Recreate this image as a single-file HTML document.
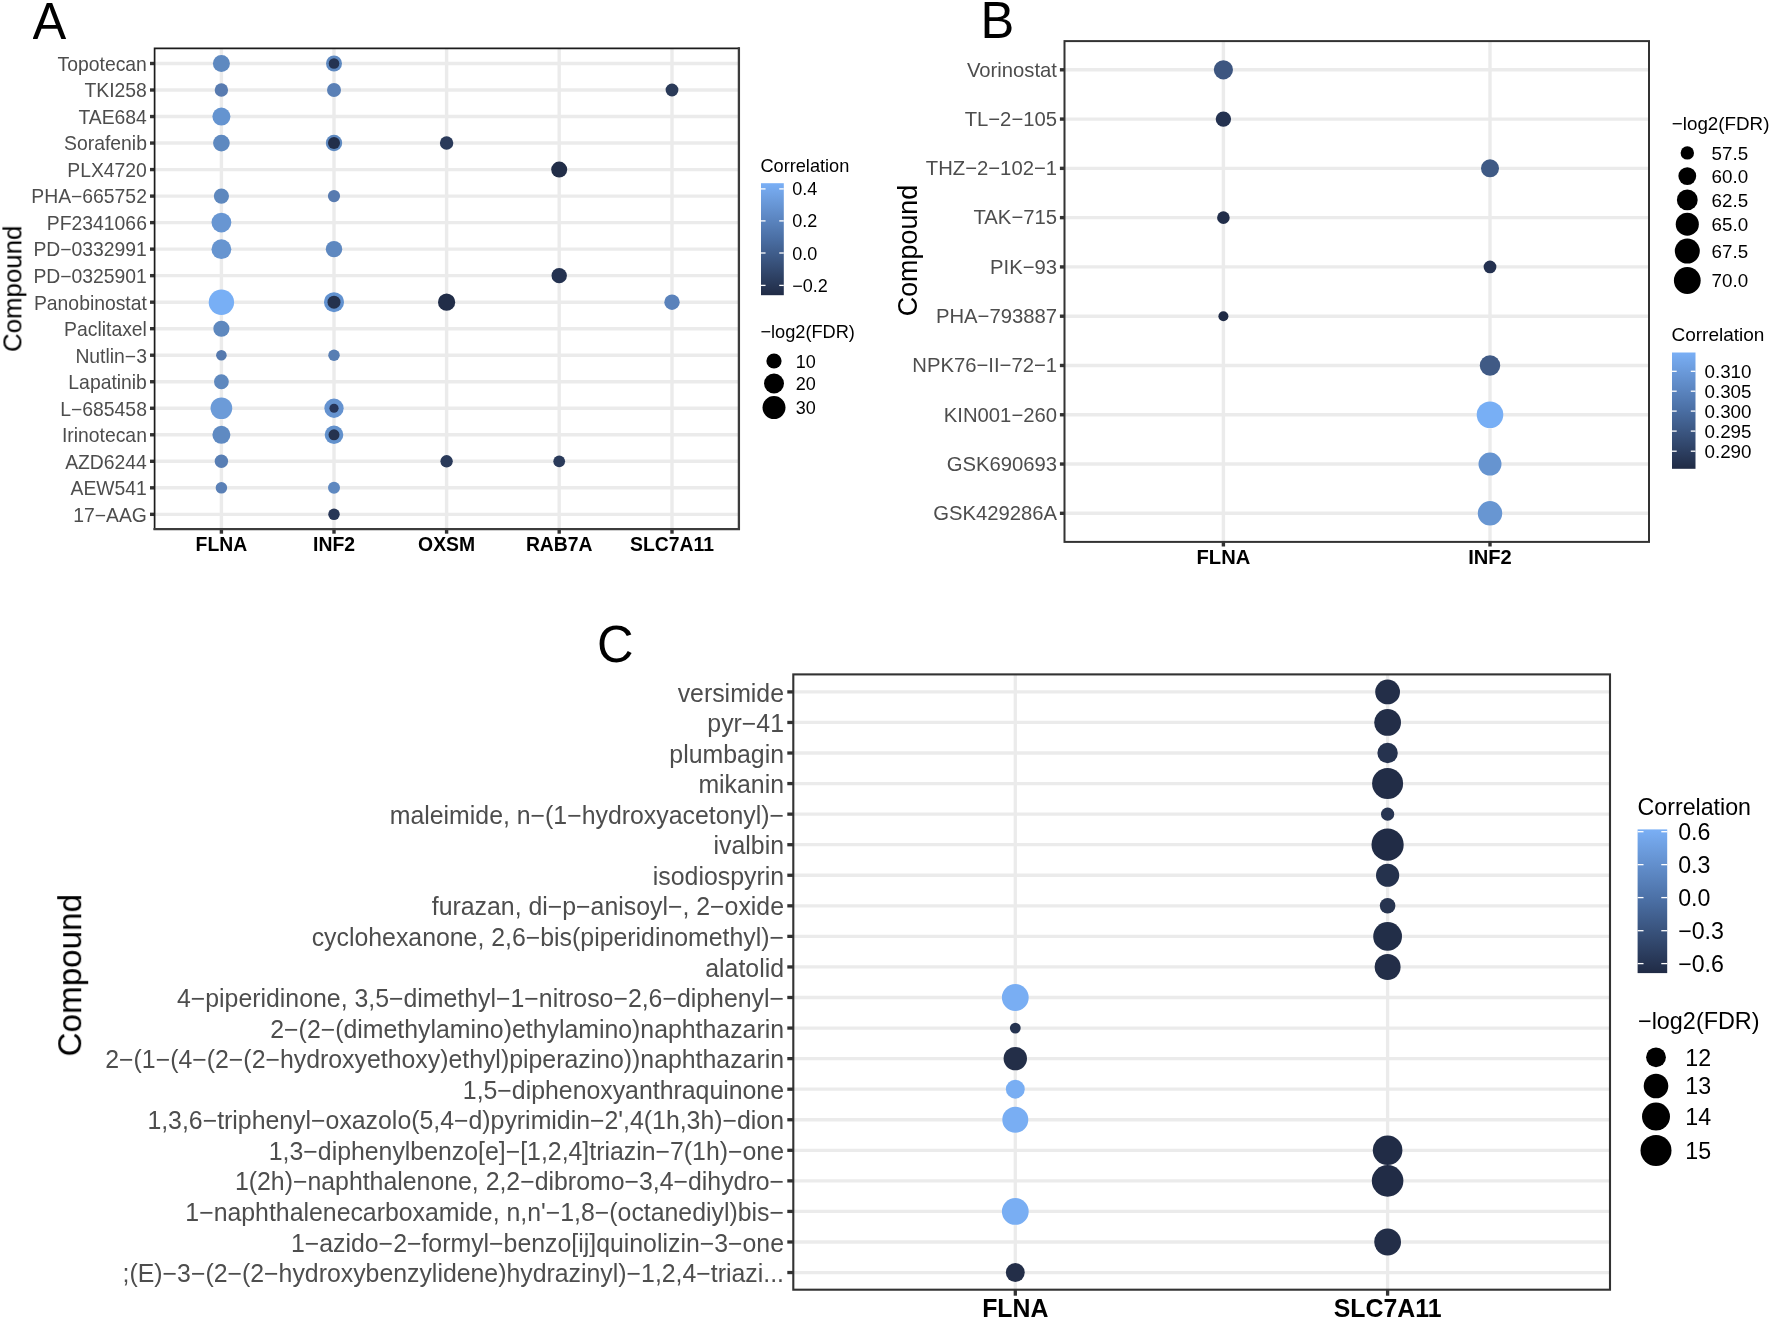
<!DOCTYPE html>
<html lang="en"><head><meta charset="utf-8"><title>Figure</title>
<style>html,body{margin:0;padding:0;background:#fff}body{width:1772px;height:1320px;overflow:hidden}svg{display:block}text{font-family:'Liberation Sans', Arial, Helvetica, sans-serif}</style>
</head><body>
<svg width="1772" height="1320" viewBox="0 0 1772 1320">
<defs><linearGradient id="grad" x1="0" y1="0" x2="0" y2="1"><stop offset="0" stop-color="#7aaff5"/><stop offset="0.5" stop-color="#4a6ea3"/><stop offset="1" stop-color="#202b45"/></linearGradient></defs>
<rect width="1772" height="1320" fill="#fff"/>
<g style="filter:blur(0.5px)">
<g>
<line x1="154.6" x2="738.9" y1="63.50" y2="63.50" stroke="#ebebeb" stroke-width="3.4"/>
<line x1="154.6" x2="738.9" y1="90.02" y2="90.02" stroke="#ebebeb" stroke-width="3.4"/>
<line x1="154.6" x2="738.9" y1="116.54" y2="116.54" stroke="#ebebeb" stroke-width="3.4"/>
<line x1="154.6" x2="738.9" y1="143.06" y2="143.06" stroke="#ebebeb" stroke-width="3.4"/>
<line x1="154.6" x2="738.9" y1="169.58" y2="169.58" stroke="#ebebeb" stroke-width="3.4"/>
<line x1="154.6" x2="738.9" y1="196.10" y2="196.10" stroke="#ebebeb" stroke-width="3.4"/>
<line x1="154.6" x2="738.9" y1="222.62" y2="222.62" stroke="#ebebeb" stroke-width="3.4"/>
<line x1="154.6" x2="738.9" y1="249.14" y2="249.14" stroke="#ebebeb" stroke-width="3.4"/>
<line x1="154.6" x2="738.9" y1="275.66" y2="275.66" stroke="#ebebeb" stroke-width="3.4"/>
<line x1="154.6" x2="738.9" y1="302.18" y2="302.18" stroke="#ebebeb" stroke-width="3.4"/>
<line x1="154.6" x2="738.9" y1="328.70" y2="328.70" stroke="#ebebeb" stroke-width="3.4"/>
<line x1="154.6" x2="738.9" y1="355.22" y2="355.22" stroke="#ebebeb" stroke-width="3.4"/>
<line x1="154.6" x2="738.9" y1="381.74" y2="381.74" stroke="#ebebeb" stroke-width="3.4"/>
<line x1="154.6" x2="738.9" y1="408.26" y2="408.26" stroke="#ebebeb" stroke-width="3.4"/>
<line x1="154.6" x2="738.9" y1="434.78" y2="434.78" stroke="#ebebeb" stroke-width="3.4"/>
<line x1="154.6" x2="738.9" y1="461.30" y2="461.30" stroke="#ebebeb" stroke-width="3.4"/>
<line x1="154.6" x2="738.9" y1="487.82" y2="487.82" stroke="#ebebeb" stroke-width="3.4"/>
<line x1="154.6" x2="738.9" y1="514.34" y2="514.34" stroke="#ebebeb" stroke-width="3.4"/>
<line x1="221.4" x2="221.4" y1="48.3" y2="529.1" stroke="#ebebeb" stroke-width="3.4"/>
<line x1="334.0" x2="334.0" y1="48.3" y2="529.1" stroke="#ebebeb" stroke-width="3.4"/>
<line x1="446.6" x2="446.6" y1="48.3" y2="529.1" stroke="#ebebeb" stroke-width="3.4"/>
<line x1="559.2" x2="559.2" y1="48.3" y2="529.1" stroke="#ebebeb" stroke-width="3.4"/>
<line x1="672.0" x2="672.0" y1="48.3" y2="529.1" stroke="#ebebeb" stroke-width="3.4"/>
<circle cx="221.4" cy="63.50" r="8.5" fill="#5e89c0"/>
<circle cx="334.0" cy="63.50" r="8.0" fill="#5e89c0"/>
<circle cx="334.0" cy="63.50" r="5.3" fill="#253350"/>
<circle cx="221.4" cy="90.02" r="6.7" fill="#587bb0"/>
<circle cx="334.0" cy="90.02" r="7.0" fill="#5a80b6"/>
<circle cx="672.0" cy="90.02" r="6.4" fill="#2a3a58"/>
<circle cx="221.4" cy="116.54" r="9.0" fill="#6594d0"/>
<circle cx="221.4" cy="143.06" r="8.35" fill="#5e89c0"/>
<circle cx="334.0" cy="143.06" r="8.2" fill="#5e89c0"/>
<circle cx="334.0" cy="143.06" r="6.0" fill="#222e4a"/>
<circle cx="446.6" cy="143.06" r="6.7" fill="#2a3a5a"/>
<circle cx="559.2" cy="169.58" r="8.0" fill="#222e48"/>
<circle cx="221.4" cy="196.10" r="7.6" fill="#5e88be"/>
<circle cx="334.0" cy="196.10" r="6.1" fill="#587bb0"/>
<circle cx="221.4" cy="222.62" r="9.9" fill="#6896d2"/>
<circle cx="221.4" cy="249.14" r="9.9" fill="#6795d0"/>
<circle cx="334.0" cy="249.14" r="8.2" fill="#5e88c0"/>
<circle cx="559.2" cy="275.66" r="7.7" fill="#243250"/>
<circle cx="221.4" cy="302.18" r="12.7" fill="#78aff5"/>
<circle cx="334.0" cy="302.18" r="10.0" fill="#6292d0"/>
<circle cx="334.0" cy="302.18" r="6.5" fill="#24314d"/>
<circle cx="446.6" cy="302.18" r="8.6" fill="#212d48"/>
<circle cx="672.0" cy="302.18" r="7.7" fill="#5a82bb"/>
<circle cx="221.4" cy="328.70" r="8.05" fill="#5e88be"/>
<circle cx="221.4" cy="355.22" r="5.3" fill="#5579ae"/>
<circle cx="334.0" cy="355.22" r="5.75" fill="#587eb3"/>
<circle cx="221.4" cy="381.74" r="7.4" fill="#5e88be"/>
<circle cx="221.4" cy="408.26" r="10.85" fill="#6c9bd8"/>
<circle cx="334.0" cy="408.26" r="9.65" fill="#6593d0"/>
<circle cx="334.0" cy="408.26" r="4.6" fill="#27365a"/>
<circle cx="221.4" cy="434.78" r="9.0" fill="#5f8ac2"/>
<circle cx="334.0" cy="434.78" r="9.3" fill="#6291cc"/>
<circle cx="334.0" cy="434.78" r="5.5" fill="#25324f"/>
<circle cx="221.4" cy="461.30" r="6.7" fill="#587eb4"/>
<circle cx="446.6" cy="461.30" r="6.2" fill="#2a3a5a"/>
<circle cx="559.2" cy="461.30" r="5.9" fill="#2a3a5a"/>
<circle cx="221.4" cy="487.82" r="5.75" fill="#5a80b6"/>
<circle cx="334.0" cy="487.82" r="6.0" fill="#5e88c0"/>
<circle cx="334.0" cy="514.34" r="5.75" fill="#283757"/>
<line x1="150.0" x2="154.6" y1="63.50" y2="63.50" stroke="#333" stroke-width="3.4"/>
<line x1="150.0" x2="154.6" y1="90.02" y2="90.02" stroke="#333" stroke-width="3.4"/>
<line x1="150.0" x2="154.6" y1="116.54" y2="116.54" stroke="#333" stroke-width="3.4"/>
<line x1="150.0" x2="154.6" y1="143.06" y2="143.06" stroke="#333" stroke-width="3.4"/>
<line x1="150.0" x2="154.6" y1="169.58" y2="169.58" stroke="#333" stroke-width="3.4"/>
<line x1="150.0" x2="154.6" y1="196.10" y2="196.10" stroke="#333" stroke-width="3.4"/>
<line x1="150.0" x2="154.6" y1="222.62" y2="222.62" stroke="#333" stroke-width="3.4"/>
<line x1="150.0" x2="154.6" y1="249.14" y2="249.14" stroke="#333" stroke-width="3.4"/>
<line x1="150.0" x2="154.6" y1="275.66" y2="275.66" stroke="#333" stroke-width="3.4"/>
<line x1="150.0" x2="154.6" y1="302.18" y2="302.18" stroke="#333" stroke-width="3.4"/>
<line x1="150.0" x2="154.6" y1="328.70" y2="328.70" stroke="#333" stroke-width="3.4"/>
<line x1="150.0" x2="154.6" y1="355.22" y2="355.22" stroke="#333" stroke-width="3.4"/>
<line x1="150.0" x2="154.6" y1="381.74" y2="381.74" stroke="#333" stroke-width="3.4"/>
<line x1="150.0" x2="154.6" y1="408.26" y2="408.26" stroke="#333" stroke-width="3.4"/>
<line x1="150.0" x2="154.6" y1="434.78" y2="434.78" stroke="#333" stroke-width="3.4"/>
<line x1="150.0" x2="154.6" y1="461.30" y2="461.30" stroke="#333" stroke-width="3.4"/>
<line x1="150.0" x2="154.6" y1="487.82" y2="487.82" stroke="#333" stroke-width="3.4"/>
<line x1="150.0" x2="154.6" y1="514.34" y2="514.34" stroke="#333" stroke-width="3.4"/>
<line x1="221.4" x2="221.4" y1="529.1" y2="533.7" stroke="#333" stroke-width="3.4"/>
<line x1="334.0" x2="334.0" y1="529.1" y2="533.7" stroke="#333" stroke-width="3.4"/>
<line x1="446.6" x2="446.6" y1="529.1" y2="533.7" stroke="#333" stroke-width="3.4"/>
<line x1="559.2" x2="559.2" y1="529.1" y2="533.7" stroke="#333" stroke-width="3.4"/>
<line x1="672.0" x2="672.0" y1="529.1" y2="533.7" stroke="#333" stroke-width="3.4"/>
<path d="M154.6,529.1V48.3H738.9" fill="none" stroke="#1c1c1c" stroke-width="1.7" stroke-linecap="square"/>
<path d="M738.9,48.3V529.1H154.6" fill="none" stroke="#3c3c3c" stroke-width="2.3" stroke-linecap="square"/>
<text x="146.9" y="70.83" font-size="19.35" fill="#4d4d4d" text-anchor="end">Topotecan</text>
<text x="146.9" y="97.35" font-size="19.35" fill="#4d4d4d" text-anchor="end">TKI258</text>
<text x="146.9" y="123.87" font-size="19.35" fill="#4d4d4d" text-anchor="end">TAE684</text>
<text x="146.9" y="150.39" font-size="19.35" fill="#4d4d4d" text-anchor="end">Sorafenib</text>
<text x="146.9" y="176.91" font-size="19.35" fill="#4d4d4d" text-anchor="end">PLX4720</text>
<text x="146.9" y="203.43" font-size="19.35" fill="#4d4d4d" text-anchor="end">PHA−665752</text>
<text x="146.9" y="229.95" font-size="19.35" fill="#4d4d4d" text-anchor="end">PF2341066</text>
<text x="146.9" y="256.47" font-size="19.35" fill="#4d4d4d" text-anchor="end">PD−0332991</text>
<text x="146.9" y="282.99" font-size="19.35" fill="#4d4d4d" text-anchor="end">PD−0325901</text>
<text x="146.9" y="309.51" font-size="19.35" fill="#4d4d4d" text-anchor="end">Panobinostat</text>
<text x="146.9" y="336.03" font-size="19.35" fill="#4d4d4d" text-anchor="end">Paclitaxel</text>
<text x="146.9" y="362.55" font-size="19.35" fill="#4d4d4d" text-anchor="end">Nutlin−3</text>
<text x="146.9" y="389.07" font-size="19.35" fill="#4d4d4d" text-anchor="end">Lapatinib</text>
<text x="146.9" y="415.59" font-size="19.35" fill="#4d4d4d" text-anchor="end">L−685458</text>
<text x="146.9" y="442.11" font-size="19.35" fill="#4d4d4d" text-anchor="end">Irinotecan</text>
<text x="146.9" y="468.63" font-size="19.35" fill="#4d4d4d" text-anchor="end">AZD6244</text>
<text x="146.9" y="495.15" font-size="19.35" fill="#4d4d4d" text-anchor="end">AEW541</text>
<text x="146.9" y="521.67" font-size="19.35" fill="#4d4d4d" text-anchor="end">17−AAG</text>
<text x="221.4" y="550.8" font-size="19.35" font-weight="bold" fill="#000" text-anchor="middle">FLNA</text>
<text x="334.0" y="550.8" font-size="19.35" font-weight="bold" fill="#000" text-anchor="middle">INF2</text>
<text x="446.6" y="550.8" font-size="19.35" font-weight="bold" fill="#000" text-anchor="middle">OXSM</text>
<text x="559.2" y="550.8" font-size="19.35" font-weight="bold" fill="#000" text-anchor="middle">RAB7A</text>
<text x="672.0" y="550.8" font-size="19.35" font-weight="bold" fill="#000" text-anchor="middle">SLC7A11</text>
<text transform="translate(21.4,288.75) rotate(-90)" font-size="25.85" fill="#000" text-anchor="middle">Compound</text>
<text transform="translate(32.5,38.7) scale(1,1.04)" font-size="50.6" fill="#000">A</text>
</g>
<g>
<line x1="1064.5" x2="1649.0" y1="69.80" y2="69.80" stroke="#ebebeb" stroke-width="3.4"/>
<line x1="1064.5" x2="1649.0" y1="119.08" y2="119.08" stroke="#ebebeb" stroke-width="3.4"/>
<line x1="1064.5" x2="1649.0" y1="168.36" y2="168.36" stroke="#ebebeb" stroke-width="3.4"/>
<line x1="1064.5" x2="1649.0" y1="217.64" y2="217.64" stroke="#ebebeb" stroke-width="3.4"/>
<line x1="1064.5" x2="1649.0" y1="266.92" y2="266.92" stroke="#ebebeb" stroke-width="3.4"/>
<line x1="1064.5" x2="1649.0" y1="316.20" y2="316.20" stroke="#ebebeb" stroke-width="3.4"/>
<line x1="1064.5" x2="1649.0" y1="365.48" y2="365.48" stroke="#ebebeb" stroke-width="3.4"/>
<line x1="1064.5" x2="1649.0" y1="414.76" y2="414.76" stroke="#ebebeb" stroke-width="3.4"/>
<line x1="1064.5" x2="1649.0" y1="464.04" y2="464.04" stroke="#ebebeb" stroke-width="3.4"/>
<line x1="1064.5" x2="1649.0" y1="513.32" y2="513.32" stroke="#ebebeb" stroke-width="3.4"/>
<line x1="1223.4" x2="1223.4" y1="41.1" y2="541.9" stroke="#ebebeb" stroke-width="3.4"/>
<line x1="1490.0" x2="1490.0" y1="41.1" y2="541.9" stroke="#ebebeb" stroke-width="3.4"/>
<circle cx="1223.4" cy="69.80" r="9.6" fill="#3d5680"/>
<circle cx="1223.4" cy="119.08" r="7.7" fill="#243250"/>
<circle cx="1490.0" cy="168.36" r="9.0" fill="#3f5a85"/>
<circle cx="1223.4" cy="217.64" r="6.3" fill="#222e4a"/>
<circle cx="1490.0" cy="266.92" r="6.4" fill="#243150"/>
<circle cx="1223.4" cy="316.20" r="5.0" fill="#1f2a45"/>
<circle cx="1490.0" cy="365.48" r="10.2" fill="#405a85"/>
<circle cx="1490.0" cy="414.76" r="13.3" fill="#78aff5"/>
<circle cx="1490.0" cy="464.04" r="11.5" fill="#6694d0"/>
<circle cx="1490.0" cy="513.32" r="12.2" fill="#6896d2"/>
<line x1="1059.9" x2="1064.5" y1="69.80" y2="69.80" stroke="#333" stroke-width="3.4"/>
<line x1="1059.9" x2="1064.5" y1="119.08" y2="119.08" stroke="#333" stroke-width="3.4"/>
<line x1="1059.9" x2="1064.5" y1="168.36" y2="168.36" stroke="#333" stroke-width="3.4"/>
<line x1="1059.9" x2="1064.5" y1="217.64" y2="217.64" stroke="#333" stroke-width="3.4"/>
<line x1="1059.9" x2="1064.5" y1="266.92" y2="266.92" stroke="#333" stroke-width="3.4"/>
<line x1="1059.9" x2="1064.5" y1="316.20" y2="316.20" stroke="#333" stroke-width="3.4"/>
<line x1="1059.9" x2="1064.5" y1="365.48" y2="365.48" stroke="#333" stroke-width="3.4"/>
<line x1="1059.9" x2="1064.5" y1="414.76" y2="414.76" stroke="#333" stroke-width="3.4"/>
<line x1="1059.9" x2="1064.5" y1="464.04" y2="464.04" stroke="#333" stroke-width="3.4"/>
<line x1="1059.9" x2="1064.5" y1="513.32" y2="513.32" stroke="#333" stroke-width="3.4"/>
<line x1="1223.4" x2="1223.4" y1="541.9" y2="546.5" stroke="#333" stroke-width="3.4"/>
<line x1="1490.0" x2="1490.0" y1="541.9" y2="546.5" stroke="#333" stroke-width="3.4"/>
<rect x="1064.5" y="41.1" width="584.5" height="500.79999999999995" fill="none" stroke="#333" stroke-width="2.0"/>
<text x="1057.0" y="76.55" font-size="20.25" fill="#4d4d4d" text-anchor="end">Vorinostat</text>
<text x="1057.0" y="125.83" font-size="20.25" fill="#4d4d4d" text-anchor="end">TL−2−105</text>
<text x="1057.0" y="175.11" font-size="20.25" fill="#4d4d4d" text-anchor="end">THZ−2−102−1</text>
<text x="1057.0" y="224.39" font-size="20.25" fill="#4d4d4d" text-anchor="end">TAK−715</text>
<text x="1057.0" y="273.67" font-size="20.25" fill="#4d4d4d" text-anchor="end">PIK−93</text>
<text x="1057.0" y="322.95" font-size="20.25" fill="#4d4d4d" text-anchor="end">PHA−793887</text>
<text x="1057.0" y="372.23" font-size="20.25" fill="#4d4d4d" text-anchor="end">NPK76−II−72−1</text>
<text x="1057.0" y="421.51" font-size="20.25" fill="#4d4d4d" text-anchor="end">KIN001−260</text>
<text x="1057.0" y="470.79" font-size="20.25" fill="#4d4d4d" text-anchor="end">GSK690693</text>
<text x="1057.0" y="520.07" font-size="20.25" fill="#4d4d4d" text-anchor="end">GSK429286A</text>
<text x="1223.4" y="564.4" font-size="20.15" font-weight="bold" fill="#000" text-anchor="middle">FLNA</text>
<text x="1490.0" y="564.4" font-size="20.15" font-weight="bold" fill="#000" text-anchor="middle">INF2</text>
<text transform="translate(916.9,250.5) rotate(-90)" font-size="26.9" fill="#000" text-anchor="middle">Compound</text>
<text transform="translate(980.4,38.1) scale(1,1.04)" font-size="50.6" fill="#000">B</text>
</g>
<g>
<line x1="793.3" x2="1610.0" y1="691.90" y2="691.90" stroke="#ebebeb" stroke-width="3.3"/>
<line x1="793.3" x2="1610.0" y1="722.46" y2="722.46" stroke="#ebebeb" stroke-width="3.3"/>
<line x1="793.3" x2="1610.0" y1="753.02" y2="753.02" stroke="#ebebeb" stroke-width="3.3"/>
<line x1="793.3" x2="1610.0" y1="783.58" y2="783.58" stroke="#ebebeb" stroke-width="3.3"/>
<line x1="793.3" x2="1610.0" y1="814.14" y2="814.14" stroke="#ebebeb" stroke-width="3.3"/>
<line x1="793.3" x2="1610.0" y1="844.70" y2="844.70" stroke="#ebebeb" stroke-width="3.3"/>
<line x1="793.3" x2="1610.0" y1="875.26" y2="875.26" stroke="#ebebeb" stroke-width="3.3"/>
<line x1="793.3" x2="1610.0" y1="905.82" y2="905.82" stroke="#ebebeb" stroke-width="3.3"/>
<line x1="793.3" x2="1610.0" y1="936.38" y2="936.38" stroke="#ebebeb" stroke-width="3.3"/>
<line x1="793.3" x2="1610.0" y1="966.94" y2="966.94" stroke="#ebebeb" stroke-width="3.3"/>
<line x1="793.3" x2="1610.0" y1="997.50" y2="997.50" stroke="#ebebeb" stroke-width="3.3"/>
<line x1="793.3" x2="1610.0" y1="1028.06" y2="1028.06" stroke="#ebebeb" stroke-width="3.3"/>
<line x1="793.3" x2="1610.0" y1="1058.62" y2="1058.62" stroke="#ebebeb" stroke-width="3.3"/>
<line x1="793.3" x2="1610.0" y1="1089.18" y2="1089.18" stroke="#ebebeb" stroke-width="3.3"/>
<line x1="793.3" x2="1610.0" y1="1119.74" y2="1119.74" stroke="#ebebeb" stroke-width="3.3"/>
<line x1="793.3" x2="1610.0" y1="1150.30" y2="1150.30" stroke="#ebebeb" stroke-width="3.3"/>
<line x1="793.3" x2="1610.0" y1="1180.86" y2="1180.86" stroke="#ebebeb" stroke-width="3.3"/>
<line x1="793.3" x2="1610.0" y1="1211.42" y2="1211.42" stroke="#ebebeb" stroke-width="3.3"/>
<line x1="793.3" x2="1610.0" y1="1241.98" y2="1241.98" stroke="#ebebeb" stroke-width="3.3"/>
<line x1="793.3" x2="1610.0" y1="1272.54" y2="1272.54" stroke="#ebebeb" stroke-width="3.3"/>
<line x1="1015.3" x2="1015.3" y1="674.4" y2="1289.7" stroke="#ebebeb" stroke-width="3.3"/>
<line x1="1387.6" x2="1387.6" y1="674.4" y2="1289.7" stroke="#ebebeb" stroke-width="3.3"/>
<circle cx="1387.6" cy="691.90" r="12.4" fill="#232e48"/>
<circle cx="1387.6" cy="722.46" r="13.4" fill="#232e48"/>
<circle cx="1387.6" cy="753.02" r="10.2" fill="#26334f"/>
<circle cx="1387.6" cy="783.58" r="15.5" fill="#222d47"/>
<circle cx="1387.6" cy="814.14" r="6.6" fill="#283552"/>
<circle cx="1387.6" cy="844.70" r="16.1" fill="#212c46"/>
<circle cx="1387.6" cy="875.26" r="11.6" fill="#25324d"/>
<circle cx="1387.6" cy="905.82" r="7.8" fill="#273450"/>
<circle cx="1387.6" cy="936.38" r="14.4" fill="#222e48"/>
<circle cx="1387.6" cy="966.94" r="13.0" fill="#232e48"/>
<circle cx="1015.3" cy="997.50" r="13.4" fill="#79aef3"/>
<circle cx="1015.3" cy="1028.06" r="5.4" fill="#253350"/>
<circle cx="1015.3" cy="1058.62" r="11.7" fill="#232e48"/>
<circle cx="1015.3" cy="1089.18" r="9.45" fill="#79aef3"/>
<circle cx="1015.3" cy="1119.74" r="13.0" fill="#79aef3"/>
<circle cx="1387.6" cy="1150.30" r="14.8" fill="#212c46"/>
<circle cx="1387.6" cy="1180.86" r="15.8" fill="#212c46"/>
<circle cx="1015.3" cy="1211.42" r="13.4" fill="#79aef3"/>
<circle cx="1387.6" cy="1241.98" r="13.4" fill="#232e48"/>
<circle cx="1015.3" cy="1272.54" r="9.45" fill="#232e48"/>
<line x1="787.3" x2="793.3" y1="691.90" y2="691.90" stroke="#333" stroke-width="3.3"/>
<line x1="787.3" x2="793.3" y1="722.46" y2="722.46" stroke="#333" stroke-width="3.3"/>
<line x1="787.3" x2="793.3" y1="753.02" y2="753.02" stroke="#333" stroke-width="3.3"/>
<line x1="787.3" x2="793.3" y1="783.58" y2="783.58" stroke="#333" stroke-width="3.3"/>
<line x1="787.3" x2="793.3" y1="814.14" y2="814.14" stroke="#333" stroke-width="3.3"/>
<line x1="787.3" x2="793.3" y1="844.70" y2="844.70" stroke="#333" stroke-width="3.3"/>
<line x1="787.3" x2="793.3" y1="875.26" y2="875.26" stroke="#333" stroke-width="3.3"/>
<line x1="787.3" x2="793.3" y1="905.82" y2="905.82" stroke="#333" stroke-width="3.3"/>
<line x1="787.3" x2="793.3" y1="936.38" y2="936.38" stroke="#333" stroke-width="3.3"/>
<line x1="787.3" x2="793.3" y1="966.94" y2="966.94" stroke="#333" stroke-width="3.3"/>
<line x1="787.3" x2="793.3" y1="997.50" y2="997.50" stroke="#333" stroke-width="3.3"/>
<line x1="787.3" x2="793.3" y1="1028.06" y2="1028.06" stroke="#333" stroke-width="3.3"/>
<line x1="787.3" x2="793.3" y1="1058.62" y2="1058.62" stroke="#333" stroke-width="3.3"/>
<line x1="787.3" x2="793.3" y1="1089.18" y2="1089.18" stroke="#333" stroke-width="3.3"/>
<line x1="787.3" x2="793.3" y1="1119.74" y2="1119.74" stroke="#333" stroke-width="3.3"/>
<line x1="787.3" x2="793.3" y1="1150.30" y2="1150.30" stroke="#333" stroke-width="3.3"/>
<line x1="787.3" x2="793.3" y1="1180.86" y2="1180.86" stroke="#333" stroke-width="3.3"/>
<line x1="787.3" x2="793.3" y1="1211.42" y2="1211.42" stroke="#333" stroke-width="3.3"/>
<line x1="787.3" x2="793.3" y1="1241.98" y2="1241.98" stroke="#333" stroke-width="3.3"/>
<line x1="787.3" x2="793.3" y1="1272.54" y2="1272.54" stroke="#333" stroke-width="3.3"/>
<line x1="1015.3" x2="1015.3" y1="1289.7" y2="1295.7" stroke="#333" stroke-width="3.3"/>
<line x1="1387.6" x2="1387.6" y1="1289.7" y2="1295.7" stroke="#333" stroke-width="3.3"/>
<rect x="793.3" y="674.4" width="816.7" height="615.3000000000001" fill="none" stroke="#333" stroke-width="2.1"/>
<text x="784.0" y="701.50" font-size="24.85" fill="#4d4d4d" text-anchor="end">versimide</text>
<text x="784.0" y="732.06" font-size="24.85" fill="#4d4d4d" text-anchor="end">pyr−41</text>
<text x="784.0" y="762.62" font-size="24.85" fill="#4d4d4d" text-anchor="end">plumbagin</text>
<text x="784.0" y="793.18" font-size="24.85" fill="#4d4d4d" text-anchor="end">mikanin</text>
<text x="784.0" y="823.74" font-size="24.85" fill="#4d4d4d" text-anchor="end">maleimide, n−(1−hydroxyacetonyl)−</text>
<text x="784.0" y="854.30" font-size="24.85" fill="#4d4d4d" text-anchor="end">ivalbin</text>
<text x="784.0" y="884.86" font-size="24.85" fill="#4d4d4d" text-anchor="end">isodiospyrin</text>
<text x="784.0" y="915.42" font-size="24.85" fill="#4d4d4d" text-anchor="end">furazan, di−p−anisoyl−, 2−oxide</text>
<text x="784.0" y="945.98" font-size="24.85" fill="#4d4d4d" text-anchor="end">cyclohexanone, 2,6−bis(piperidinomethyl)−</text>
<text x="784.0" y="976.54" font-size="24.85" fill="#4d4d4d" text-anchor="end">alatolid</text>
<text x="784.0" y="1007.10" font-size="24.85" fill="#4d4d4d" text-anchor="end">4−piperidinone, 3,5−dimethyl−1−nitroso−2,6−diphenyl−</text>
<text x="784.0" y="1037.66" font-size="24.85" fill="#4d4d4d" text-anchor="end">2−(2−(dimethylamino)ethylamino)naphthazarin</text>
<text x="784.0" y="1068.22" font-size="24.85" fill="#4d4d4d" text-anchor="end">2−(1−(4−(2−(2−hydroxyethoxy)ethyl)piperazino))naphthazarin</text>
<text x="784.0" y="1098.78" font-size="24.85" fill="#4d4d4d" text-anchor="end">1,5−diphenoxyanthraquinone</text>
<text x="784.0" y="1129.34" font-size="24.85" fill="#4d4d4d" text-anchor="end">1,3,6−triphenyl−oxazolo(5,4−d)pyrimidin−2',4(1h,3h)−dion</text>
<text x="784.0" y="1159.90" font-size="24.85" fill="#4d4d4d" text-anchor="end">1,3−diphenylbenzo[e]−[1,2,4]triazin−7(1h)−one</text>
<text x="784.0" y="1190.46" font-size="24.85" fill="#4d4d4d" text-anchor="end">1(2h)−naphthalenone, 2,2−dibromo−3,4−dihydro−</text>
<text x="784.0" y="1221.02" font-size="24.85" fill="#4d4d4d" text-anchor="end">1−naphthalenecarboxamide, n,n'−1,8−(octanediyl)bis−</text>
<text x="784.0" y="1251.58" font-size="24.85" fill="#4d4d4d" text-anchor="end">1−azido−2−formyl−benzo[ij]quinolizin−3−one</text>
<text x="784.0" y="1282.14" font-size="24.85" fill="#4d4d4d" text-anchor="end">;(E)−3−(2−(2−hydroxybenzylidene)hydrazinyl)−1,2,4−triazi...</text>
<text x="1015.3" y="1317.4" font-size="24.85" font-weight="bold" fill="#000" text-anchor="middle">FLNA</text>
<text x="1387.6" y="1317.4" font-size="24.85" font-weight="bold" fill="#000" text-anchor="middle">SLC7A11</text>
<text transform="translate(81.2,975.2) rotate(-90)" font-size="33.2" fill="#000" text-anchor="middle">Compound</text>
<text transform="translate(596.9,661.6) scale(1,1.04)" font-size="50.6" fill="#000">C</text>
</g>
<text x="760.4" y="171.7" font-size="18.2" fill="#000">Correlation</text>
<rect x="761.0" y="183.2" width="22.80" height="112.00" fill="url(#grad)"/>
<line x1="761.0" x2="765.56" y1="188.9" y2="188.9" stroke="#fff" stroke-width="1.3"/>
<line x1="779.24" x2="783.8" y1="188.9" y2="188.9" stroke="#fff" stroke-width="1.3"/>
<text x="792.3" y="195.40" font-size="18.0" fill="#000">0.4</text>
<line x1="761.0" x2="765.56" y1="220.9" y2="220.9" stroke="#fff" stroke-width="1.3"/>
<line x1="779.24" x2="783.8" y1="220.9" y2="220.9" stroke="#fff" stroke-width="1.3"/>
<text x="792.3" y="227.40" font-size="18.0" fill="#000">0.2</text>
<line x1="761.0" x2="765.56" y1="253.0" y2="253.0" stroke="#fff" stroke-width="1.3"/>
<line x1="779.24" x2="783.8" y1="253.0" y2="253.0" stroke="#fff" stroke-width="1.3"/>
<text x="792.3" y="259.50" font-size="18.0" fill="#000">0.0</text>
<line x1="761.0" x2="765.56" y1="285.4" y2="285.4" stroke="#fff" stroke-width="1.3"/>
<line x1="779.24" x2="783.8" y1="285.4" y2="285.4" stroke="#fff" stroke-width="1.3"/>
<text x="792.3" y="291.90" font-size="18.0" fill="#000">−0.2</text>
<text x="760.4" y="338.4" font-size="18.2" fill="#000">−log2(FDR)</text>
<circle cx="774.0" cy="361.0" r="7.6" fill="#000"/>
<text x="795.8" y="367.50" font-size="18.0" fill="#000">10</text>
<circle cx="774.0" cy="383.5" r="10.0" fill="#000"/>
<text x="795.8" y="390.00" font-size="18.0" fill="#000">20</text>
<circle cx="774.0" cy="407.6" r="11.5" fill="#000"/>
<text x="795.8" y="414.10" font-size="18.0" fill="#000">30</text>
<text x="1671.8" y="129.5" font-size="18.8" fill="#000">−log2(FDR)</text>
<circle cx="1687.3" cy="152.9" r="6.7" fill="#000"/>
<text x="1711.6" y="159.60" font-size="18.8" fill="#000">57.5</text>
<circle cx="1687.3" cy="176.1" r="8.9" fill="#000"/>
<text x="1711.6" y="182.80" font-size="18.8" fill="#000">60.0</text>
<circle cx="1687.3" cy="199.9" r="10.4" fill="#000"/>
<text x="1711.6" y="206.60" font-size="18.8" fill="#000">62.5</text>
<circle cx="1687.3" cy="224.2" r="11.55" fill="#000"/>
<text x="1711.6" y="230.90" font-size="18.8" fill="#000">65.0</text>
<circle cx="1687.3" cy="251.1" r="12.5" fill="#000"/>
<text x="1711.6" y="257.80" font-size="18.8" fill="#000">67.5</text>
<circle cx="1687.3" cy="280.5" r="13.4" fill="#000"/>
<text x="1711.6" y="287.20" font-size="18.8" fill="#000">70.0</text>
<text x="1671.5" y="340.9" font-size="19.0" fill="#000">Correlation</text>
<rect x="1672.0" y="352.5" width="23.50" height="116.30" fill="url(#grad)"/>
<line x1="1672.0" x2="1676.70" y1="371.3" y2="371.3" stroke="#fff" stroke-width="1.3"/>
<line x1="1690.80" x2="1695.5" y1="371.3" y2="371.3" stroke="#fff" stroke-width="1.3"/>
<text x="1704.5" y="378.00" font-size="18.8" fill="#000">0.310</text>
<line x1="1672.0" x2="1676.70" y1="391.2" y2="391.2" stroke="#fff" stroke-width="1.3"/>
<line x1="1690.80" x2="1695.5" y1="391.2" y2="391.2" stroke="#fff" stroke-width="1.3"/>
<text x="1704.5" y="397.90" font-size="18.8" fill="#000">0.305</text>
<line x1="1672.0" x2="1676.70" y1="411.1" y2="411.1" stroke="#fff" stroke-width="1.3"/>
<line x1="1690.80" x2="1695.5" y1="411.1" y2="411.1" stroke="#fff" stroke-width="1.3"/>
<text x="1704.5" y="417.80" font-size="18.8" fill="#000">0.300</text>
<line x1="1672.0" x2="1676.70" y1="431.1" y2="431.1" stroke="#fff" stroke-width="1.3"/>
<line x1="1690.80" x2="1695.5" y1="431.1" y2="431.1" stroke="#fff" stroke-width="1.3"/>
<text x="1704.5" y="437.80" font-size="18.8" fill="#000">0.295</text>
<line x1="1672.0" x2="1676.70" y1="451.2" y2="451.2" stroke="#fff" stroke-width="1.3"/>
<line x1="1690.80" x2="1695.5" y1="451.2" y2="451.2" stroke="#fff" stroke-width="1.3"/>
<text x="1704.5" y="457.90" font-size="18.8" fill="#000">0.290</text>
<text x="1637.6" y="815.4" font-size="23.2" fill="#000">Correlation</text>
<rect x="1637.6" y="829.4" width="29.60" height="143.70" fill="url(#grad)"/>
<line x1="1637.6" x2="1643.52" y1="831.7" y2="831.7" stroke="#fff" stroke-width="1.3"/>
<line x1="1661.28" x2="1667.2" y1="831.7" y2="831.7" stroke="#fff" stroke-width="1.3"/>
<text x="1678.2" y="839.90" font-size="23.2" fill="#000">0.6</text>
<line x1="1637.6" x2="1643.52" y1="864.65" y2="864.65" stroke="#fff" stroke-width="1.3"/>
<line x1="1661.28" x2="1667.2" y1="864.65" y2="864.65" stroke="#fff" stroke-width="1.3"/>
<text x="1678.2" y="872.85" font-size="23.2" fill="#000">0.3</text>
<line x1="1637.6" x2="1643.52" y1="897.6" y2="897.6" stroke="#fff" stroke-width="1.3"/>
<line x1="1661.28" x2="1667.2" y1="897.6" y2="897.6" stroke="#fff" stroke-width="1.3"/>
<text x="1678.2" y="905.80" font-size="23.2" fill="#000">0.0</text>
<line x1="1637.6" x2="1643.52" y1="930.7" y2="930.7" stroke="#fff" stroke-width="1.3"/>
<line x1="1661.28" x2="1667.2" y1="930.7" y2="930.7" stroke="#fff" stroke-width="1.3"/>
<text x="1678.2" y="938.90" font-size="23.2" fill="#000">−0.3</text>
<line x1="1637.6" x2="1643.52" y1="963.6" y2="963.6" stroke="#fff" stroke-width="1.3"/>
<line x1="1661.28" x2="1667.2" y1="963.6" y2="963.6" stroke="#fff" stroke-width="1.3"/>
<text x="1678.2" y="971.80" font-size="23.2" fill="#000">−0.6</text>
<text x="1638.0" y="1028.5" font-size="23.4" fill="#000">−log2(FDR)</text>
<circle cx="1656.0" cy="1057.3" r="9.9" fill="#000"/>
<text x="1685.3" y="1065.50" font-size="23.2" fill="#000">12</text>
<circle cx="1656.0" cy="1086.0" r="12.3" fill="#000"/>
<text x="1685.3" y="1094.20" font-size="23.2" fill="#000">13</text>
<circle cx="1656.0" cy="1116.6" r="14.0" fill="#000"/>
<text x="1685.3" y="1124.80" font-size="23.2" fill="#000">14</text>
<circle cx="1656.0" cy="1150.5" r="15.5" fill="#000"/>
<text x="1685.3" y="1158.70" font-size="23.2" fill="#000">15</text>
</g>
</svg></body></html>
